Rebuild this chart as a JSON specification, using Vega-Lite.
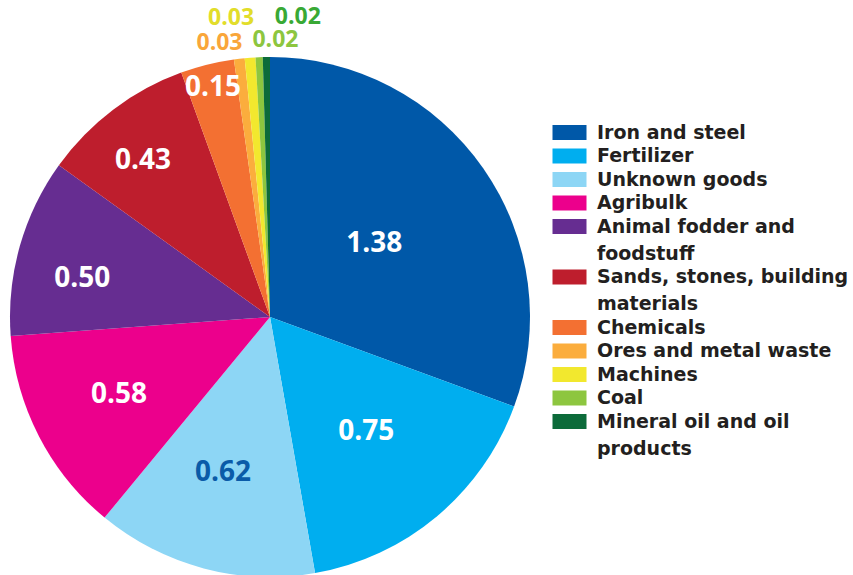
{
  "$schema": "https://vega.github.io/schema/vega-lite/v6.json",
  "width": 520,
  "height": 520,
  "autosize": {"type": "none"},
  "padding": {"left": 10, "top": 57, "right": 323, "bottom": 0},
  "background": "white",
  "config": {"view": {"stroke": null}, "text": {"font": "Open Sans", "fontWeight": "bold"}},
  "data": {"values": [
    {"cargo": "Iron and steel", "value": 1.38, "idx": 1},
    {"cargo": "Fertilizer", "value": 0.75, "idx": 2},
    {"cargo": "Unknown goods", "value": 0.62, "idx": 3},
    {"cargo": "Agribulk", "value": 0.58, "idx": 4},
    {"cargo": "Animal fodder and foodstuff", "value": 0.50, "idx": 5},
    {"cargo": "Sands, stones, building materials", "value": 0.43, "idx": 6},
    {"cargo": "Chemicals", "value": 0.15, "idx": 7},
    {"cargo": "Ores and metal waste", "value": 0.03, "idx": 8},
    {"cargo": "Machines", "value": 0.03, "idx": 9},
    {"cargo": "Coal", "value": 0.02, "idx": 10},
    {"cargo": "Mineral oil and oil products", "value": 0.02, "idx": 11}
  ]},
  "encoding": {
    "theta": {"field": "value", "type": "quantitative", "stack": true},
    "order": {"field": "idx", "type": "quantitative"}
  },
  "layer": [
    {
      "mark": {"type": "arc", "outerRadius": 260},
      "encoding": {
        "color": {
          "field": "cargo", "type": "nominal",
          "scale": {
            "domain": ["Iron and steel", "Fertilizer", "Unknown goods", "Agribulk", "Animal fodder and foodstuff", "Sands, stones, building materials", "Chemicals", "Ores and metal waste", "Machines", "Coal", "Mineral oil and oil products"],
            "range": ["#0058a8", "#00aeef", "#8dd6f5", "#ec008c", "#662d91", "#be1e2d", "#f37032", "#fbad3d", "#f2e82e", "#8dc63f", "#0c6b3a"]
          },
          "legend": {
            "orient": "none", "legendX": 550, "legendY": 66, "title": null,
            "symbolType": "M-2,-0.88H2V0.88H-2Z", "symbolSize": 289, "symbolStrokeWidth": 0,
            "labelFont": "DejaVu Sans", "labelFontSize": 19, "labelFontWeight": "bold", "labelColor": "#231f20",
            "labelLimit": 320, "labelOffset": 18, "rowPadding": 3.5,
            "labelExpr": "datum.label == 'Animal fodder and foodstuff' ? ['Animal fodder and', 'foodstuff'] : datum.label == 'Sands, stones, building materials' ? ['Sands, stones, building', 'materials'] : datum.label == 'Mineral oil and oil products' ? ['Mineral oil and oil', 'products'] : datum.label",
            "encode": {"labels": {"update": {"lineHeight": {"value": 27}}}}
          }
        }
      }
    },
    {
      "mark": {"type": "text", "radius": 127, "fontSize": 28, "color": "white"},
      "encoding": {"text": {"field": "value", "format": ".2f", "condition": {"test": "datum.cargo != 'Iron and steel'", "value": ""}}}
    },
    {
      "mark": {"type": "text", "radius": 150, "fontSize": 28, "color": "white"},
      "encoding": {"text": {"field": "value", "format": ".2f", "condition": {"test": "datum.cargo != 'Fertilizer'", "value": ""}}}
    },
    {
      "mark": {"type": "text", "radius": 161, "fontSize": 28, "color": "#0a5ba8", "dx": -6},
      "encoding": {"text": {"field": "value", "format": ".2f", "condition": {"test": "datum.cargo != 'Unknown goods'", "value": ""}}}
    },
    {
      "mark": {"type": "text", "radius": 170, "fontSize": 28, "color": "white"},
      "encoding": {"text": {"field": "value", "format": ".2f", "condition": {"test": "datum.cargo != 'Agribulk'", "value": ""}}}
    },
    {
      "mark": {"type": "text", "radius": 192, "fontSize": 28, "color": "white", "dx": -3, "dy": 14},
      "encoding": {"text": {"field": "value", "format": ".2f", "condition": {"test": "datum.cargo != 'Animal fodder and foodstuff'", "value": ""}}}
    },
    {
      "mark": {"type": "text", "radius": 202, "fontSize": 28, "color": "white", "dx": -5, "dy": 5},
      "encoding": {"text": {"field": "value", "format": ".2f", "condition": {"test": "datum.cargo != 'Sands, stones, building materials'", "value": ""}}}
    },
    {
      "mark": {"type": "text", "radius": 236, "fontSize": 28, "color": "white"},
      "encoding": {"text": {"field": "value", "format": ".2f", "condition": {"test": "datum.cargo != 'Chemicals'", "value": ""}}}
    },
    {
      "mark": {"type": "text", "radius": 275, "fontSize": 23, "color": "#f9a63a", "dx": -18, "dy": -1},
      "encoding": {"text": {"field": "value", "format": ".2f", "condition": {"test": "datum.cargo != 'Ores and metal waste'", "value": ""}}}
    },
    {
      "mark": {"type": "text", "radius": 300, "fontSize": 23, "color": "#e2dd2a", "dx": -16},
      "encoding": {"text": {"field": "value", "format": ".2f", "condition": {"test": "datum.cargo != 'Machines'", "value": ""}}}
    },
    {
      "mark": {"type": "text", "radius": 277, "fontSize": 23, "color": "#8dc63f", "dx": 17},
      "encoding": {"text": {"field": "value", "format": ".2f", "condition": {"test": "datum.cargo != 'Coal'", "value": ""}}}
    },
    {
      "mark": {"type": "text", "radius": 300, "fontSize": 23, "color": "#39a935", "dx": 32},
      "encoding": {"text": {"field": "value", "format": ".2f", "condition": {"test": "datum.cargo != 'Mineral oil and oil products'", "value": ""}}}
    }
  ]
}
